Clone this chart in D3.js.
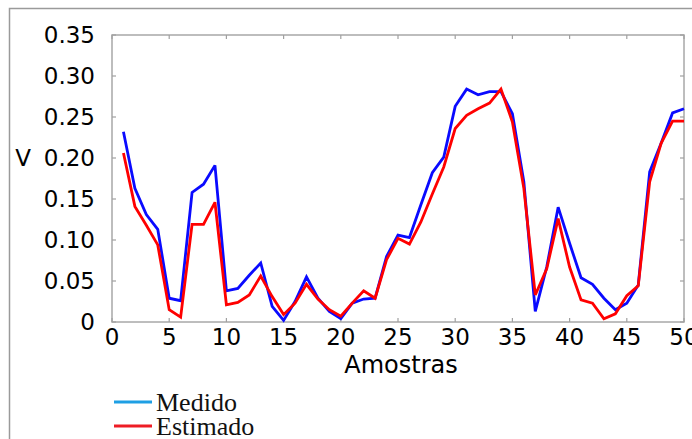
<!DOCTYPE html>
<html>
<head>
<meta charset="utf-8">
<script src="https://cdn.jsdelivr.net/npm/d3@7"></script>
<style>
html,body{margin:0;padding:0;background:#fff;}
svg{display:block;}
</style>
</head>
<body>
<svg id="chart" width="692" height="439"></svg>
<script>
const samples = d3.range(1, 51);
const medido = [0.232,0.163,0.131,0.113,0.029,0.026,0.158,0.168,0.191,0.038,
                0.041,0.057,0.072,0.019,0.002,0.025,0.055,0.029,0.013,0.004,
                0.023,0.028,0.029,0.080,0.106,0.103,0.143,0.182,0.201,0.263,
                0.284,0.277,0.281,0.281,0.254,0.171,0.013,0.067,0.140,0.096,
                0.054,0.046,0.029,0.015,0.023,0.045,0.183,0.218,0.255,0.260];
const estimado = [0.206,0.141,0.118,0.094,0.015,0.006,0.119,0.119,0.146,0.021,
                  0.024,0.033,0.056,0.031,0.009,0.023,0.046,0.028,0.015,0.007,
                  0.023,0.038,0.029,0.076,0.102,0.095,0.122,0.156,0.189,0.236,
                  0.252,0.260,0.267,0.284,0.244,0.163,0.033,0.065,0.126,0.067,
                  0.027,0.023,0.004,0.010,0.032,0.044,0.171,0.218,0.245,0.245];
const xTicks = [0,5,10,15,20,25,30,35,40,45,50];
const yTicks = [0,0.05,0.10,0.15,0.20,0.25,0.30,0.35];
const yTickLabels = ["0","0.05","0.10","0.15","0.20","0.25","0.30","0.35"];
const seriesNames = ["Medido","Estimado"];
const lineColors = ["#0a0aff","#ff0000"];
const legendColors = ["#1e9fe4","#ee1c25"];

const svg = d3.select("#chart");
const L = 112, R = 684, T = 35, B = 322;
const x = d3.scaleLinear().domain([0,50]).range([L,R]);
const y = d3.scaleLinear().domain([0,0.35]).range([B,T]);

// outer frame
svg.append("path").attr("d","M9.5,439 L9.5,8.5 L692,8.5")
  .attr("fill","none").attr("stroke","#9a9a9a").attr("stroke-width",1.5);

// plot frame
svg.append("rect").attr("x",L).attr("y",T).attr("width",R-L).attr("height",B-T)
  .attr("fill","none").attr("stroke","#a8a8a8").attr("stroke-width",1.5);

// ticks (inward, all four sides)
const tk = 4;
const tickG = svg.append("g").attr("stroke","#a0a0a0").attr("stroke-width",1.2);
xTicks.forEach(t => {
  tickG.append("line").attr("x1",x(t)).attr("x2",x(t)).attr("y1",B).attr("y2",B-tk);
  tickG.append("line").attr("x1",x(t)).attr("x2",x(t)).attr("y1",T).attr("y2",T+tk);
});
yTicks.forEach(t => {
  tickG.append("line").attr("x1",L).attr("x2",L+tk).attr("y1",y(t)).attr("y2",y(t));
  tickG.append("line").attr("x1",R).attr("x2",R-tk).attr("y1",y(t)).attr("y2",y(t));
});

// tick labels
const font = "DejaVu Sans, sans-serif";
svg.append("g").selectAll("text").data(xTicks).join("text")
  .attr("x",d=>x(d)).attr("y",345)
  .attr("text-anchor","middle").attr("font-family",font).attr("font-size",23)
  .attr("fill","#000").text(d=>d);
svg.append("g").selectAll("text").data(yTicks).join("text")
  .attr("x",95).attr("y",d=>y(d)+8)
  .attr("text-anchor","end").attr("font-family",font).attr("font-size",23)
  .attr("fill","#000").text((d,i)=>yTickLabels[i]);

// axis titles
svg.append("text").attr("x",23).attr("y",166).attr("text-anchor","middle")
  .attr("font-family",font).attr("font-size",23).attr("fill","#000").text("V");
svg.append("text").attr("x",401).attr("y",373).attr("text-anchor","middle")
  .attr("font-family",font).attr("font-size",24).attr("fill","#000").text("Amostras");

// lines
const line = d3.line().x((d,i)=>x(samples[i])).y(d=>y(d));
[medido, estimado].forEach((s,k) => {
  svg.append("path").datum(s).attr("d",line)
    .attr("fill","none").attr("stroke",lineColors[k]).attr("stroke-width",2.8)
    .attr("stroke-linejoin","miter").attr("stroke-miterlimit",3);
});

// legend
const legY = [402, 426];
seriesNames.forEach((n,k) => {
  svg.append("line").attr("x1",114).attr("x2",152).attr("y1",legY[k]).attr("y2",legY[k])
    .attr("stroke",legendColors[k]).attr("stroke-width",3.2);
  svg.append("text").attr("x",156).attr("y",legY[k]+9)
    .attr("font-family","Liberation Serif, Times New Roman, serif").attr("font-size",26)
    .attr("fill","#111").text(n);
});
</script>
</body>
</html>
